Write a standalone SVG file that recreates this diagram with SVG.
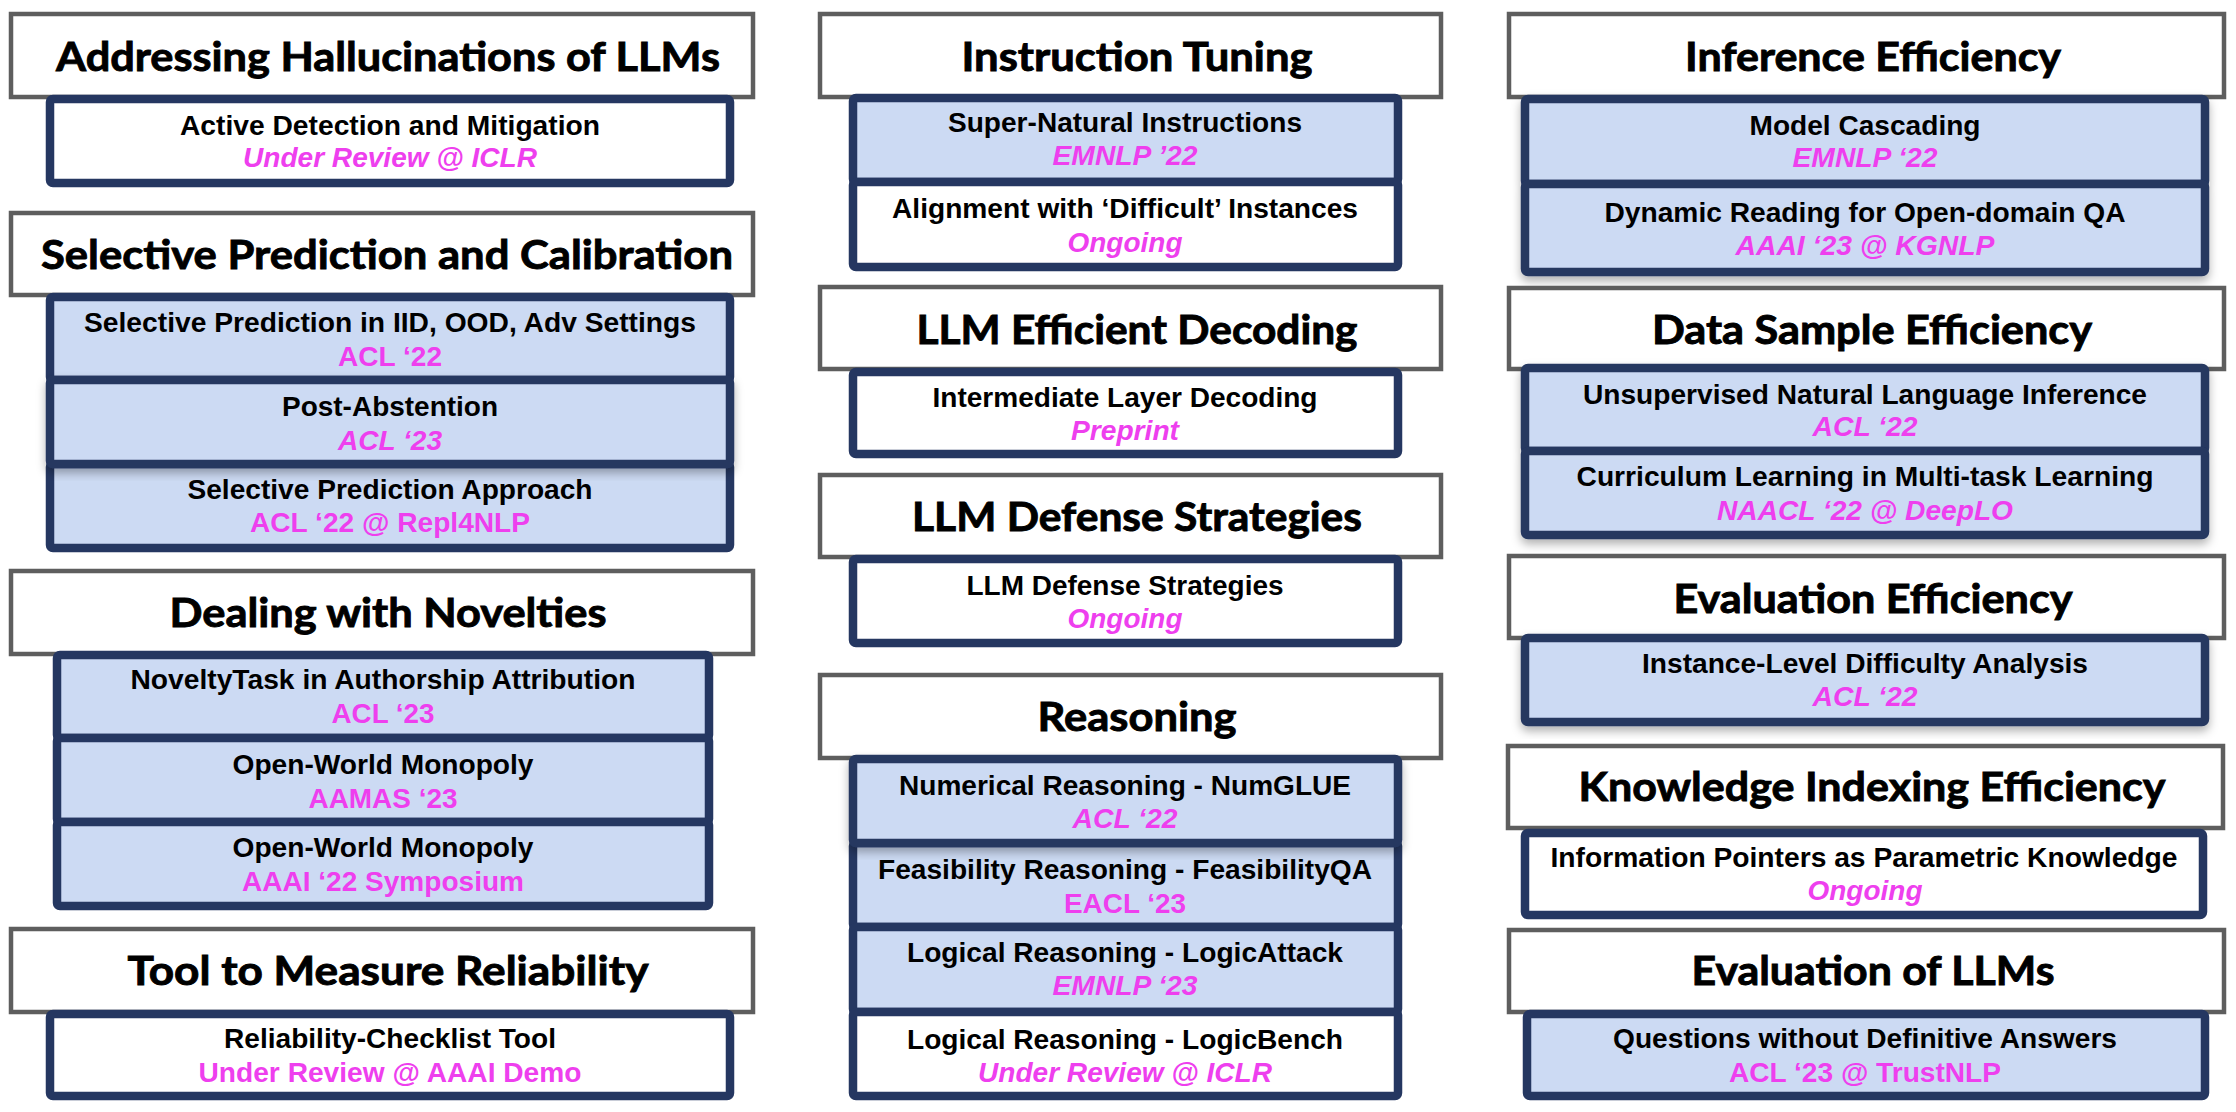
<svg xmlns="http://www.w3.org/2000/svg" width="2236" height="1112" viewBox="0 0 2236 1112">
<defs>
<style>
.hdr{fill:#ffffff;stroke:#5e5e5e;stroke-width:4.5}
.bw{fill:#ffffff;stroke:#253761;stroke-width:8.5}
.bb{fill:#ccdaf3;stroke:#253761;stroke-width:8.5}
.t{font-family:Lato,"Open Sans","Liberation Sans",sans-serif;font-weight:bold;font-size:41px;fill:#000;stroke:#000;stroke-width:0.9;text-anchor:middle}
.s{font-family:"Liberation Sans",Arial,sans-serif;font-weight:bold;font-size:28px;fill:#000;text-anchor:middle}
.v{font-family:"Liberation Sans",Arial,sans-serif;font-weight:bold;font-size:28px;fill:#ee3fee;text-anchor:middle}
.i{font-style:italic}
</style>
<filter id="sh" x="-10%" y="-10%" width="120%" height="130%">
<feDropShadow dx="0" dy="5" stdDeviation="5" flood-color="#000" flood-opacity="0.3"/>
</filter>
</defs>
<rect width="2236" height="1112" fill="#ffffff"/>
<g id="connectors"/>

<!-- LEFT COLUMN -->
<g id="hallucinations">
<rect class="hdr" x="11" y="14" width="742" height="83"/>
<text class="t" x="388" y="71" textLength="664" lengthAdjust="spacingAndGlyphs">Addressing Hallucinations of LLMs</text>
<rect class="bw" x="50" y="99" width="680" height="84" rx="3"/>
<text class="s" x="390" y="135" textLength="420" lengthAdjust="spacingAndGlyphs">Active Detection and Mitigation</text>
<text class="v i" x="390" y="167" textLength="294" lengthAdjust="spacingAndGlyphs">Under Review @ ICLR</text>
</g>

<g id="selective">
<rect class="hdr" x="11" y="213" width="742" height="82"/>
<text class="t" x="387" y="269" textLength="692" lengthAdjust="spacingAndGlyphs">Selective Prediction and Calibration</text>
<rect class="bb" x="50" y="297" width="680" height="83" rx="3"/>
<text class="s" x="390" y="332" textLength="612" lengthAdjust="spacingAndGlyphs">Selective Prediction in IID, OOD, Adv Settings</text>
<text class="v" x="390" y="366" textLength="104" lengthAdjust="spacingAndGlyphs">ACL ‘22</text>
<rect class="bb" x="50" y="464" width="680" height="84" rx="3"/>
<text class="s" x="390" y="499" textLength="405" lengthAdjust="spacingAndGlyphs">Selective Prediction Approach</text>
<text class="v" x="390" y="532" textLength="280" lengthAdjust="spacingAndGlyphs">ACL ‘22 @ Repl4NLP</text>
<rect class="bb" x="50" y="380" width="680" height="84" rx="3" filter="url(#sh)"/>
<text class="s" x="390" y="416" textLength="216" lengthAdjust="spacingAndGlyphs">Post-Abstention</text>
<text class="v i" x="390" y="450" textLength="104" lengthAdjust="spacingAndGlyphs">ACL ‘23</text>
</g>

<g id="novelties">
<rect class="hdr" x="11" y="571" width="742" height="83"/>
<text class="t" x="388" y="627" textLength="437" lengthAdjust="spacingAndGlyphs">Dealing with Novelties</text>
<rect class="bb" x="57" y="655" width="652" height="83" rx="3"/>
<text class="s" x="383" y="689" textLength="505" lengthAdjust="spacingAndGlyphs">NoveltyTask in Authorship Attribution</text>
<text class="v" x="383" y="723" textLength="103" lengthAdjust="spacingAndGlyphs">ACL ‘23</text>
<rect class="bb" x="57" y="738" width="652" height="84" rx="3"/>
<text class="s" x="383" y="774" textLength="301" lengthAdjust="spacingAndGlyphs">Open-World Monopoly</text>
<text class="v" x="383" y="808" textLength="149" lengthAdjust="spacingAndGlyphs">AAMAS ‘23</text>
<rect class="bb" x="57" y="822" width="652" height="84" rx="3"/>
<text class="s" x="383" y="857" textLength="301" lengthAdjust="spacingAndGlyphs">Open-World Monopoly</text>
<text class="v" x="383" y="891" textLength="282" lengthAdjust="spacingAndGlyphs">AAAI ‘22 Symposium</text>
</g>

<g id="reliability">
<rect class="hdr" x="11" y="929" width="742" height="83"/>
<text class="t" x="388" y="985" textLength="521" lengthAdjust="spacingAndGlyphs">Tool to Measure Reliability</text>
<rect class="bw" x="50" y="1014" width="680" height="82" rx="3"/>
<text class="s" x="390" y="1048" textLength="332" lengthAdjust="spacingAndGlyphs">Reliability-Checklist Tool</text>
<text class="v" x="390" y="1082" textLength="383" lengthAdjust="spacingAndGlyphs">Under Review @ AAAI Demo</text>
</g>

<!-- MIDDLE COLUMN -->
<g id="instruction-tuning">
<rect class="hdr" x="820" y="14" width="621" height="83"/>
<text class="t" x="1137" y="71" textLength="351" lengthAdjust="spacingAndGlyphs">Instruction Tuning</text>
<rect class="bb" x="853" y="98" width="545" height="84" rx="3"/>
<text class="s" x="1125" y="132" textLength="354" lengthAdjust="spacingAndGlyphs">Super-Natural Instructions</text>
<text class="v i" x="1125" y="165" textLength="145" lengthAdjust="spacingAndGlyphs">EMNLP ’22</text>
<rect class="bw" x="853" y="182" width="545" height="85" rx="3"/>
<text class="s" x="1125" y="218" textLength="466" lengthAdjust="spacingAndGlyphs">Alignment with ‘Difficult’ Instances</text>
<text class="v i" x="1125" y="252" textLength="115" lengthAdjust="spacingAndGlyphs">Ongoing</text>
</g>

<g id="efficient-decoding">
<rect class="hdr" x="820" y="287" width="621" height="82"/>
<text class="t" x="1137" y="344" textLength="441" lengthAdjust="spacingAndGlyphs">LLM Efficient Decoding</text>
<rect class="bw" x="853" y="372" width="545" height="82" rx="3"/>
<text class="s" x="1125" y="407" textLength="385" lengthAdjust="spacingAndGlyphs">Intermediate Layer Decoding</text>
<text class="v i" x="1125" y="440" textLength="108" lengthAdjust="spacingAndGlyphs">Preprint</text>
</g>

<g id="defense">
<rect class="hdr" x="820" y="475" width="621" height="82"/>
<text class="t" x="1137" y="531" textLength="450" lengthAdjust="spacingAndGlyphs">LLM Defense Strategies</text>
<rect class="bw" x="853" y="559" width="545" height="84" rx="3"/>
<text class="s" x="1125" y="595" textLength="317" lengthAdjust="spacingAndGlyphs">LLM Defense Strategies</text>
<text class="v i" x="1125" y="628" textLength="115" lengthAdjust="spacingAndGlyphs">Ongoing</text>
</g>

<g id="reasoning">
<rect class="hdr" x="820" y="675" width="621" height="83"/>
<text class="t" x="1137" y="731" textLength="199" lengthAdjust="spacingAndGlyphs">Reasoning</text>
<rect class="bb" x="853" y="843" width="545" height="84" rx="3"/>
<text class="s" x="1125" y="879" textLength="494" lengthAdjust="spacingAndGlyphs">Feasibility Reasoning - FeasibilityQA</text>
<text class="v" x="1125" y="913" textLength="122" lengthAdjust="spacingAndGlyphs">EACL ‘23</text>
<rect class="bb" x="853" y="927" width="545" height="85" rx="3"/>
<text class="s" x="1125" y="962" textLength="436" lengthAdjust="spacingAndGlyphs">Logical Reasoning - LogicAttack</text>
<text class="v i" x="1125" y="995" textLength="145" lengthAdjust="spacingAndGlyphs">EMNLP ‘23</text>
<rect class="bw" x="853" y="1012" width="545" height="84" rx="3"/>
<text class="s" x="1125" y="1049" textLength="436" lengthAdjust="spacingAndGlyphs">Logical Reasoning - LogicBench</text>
<text class="v i" x="1125" y="1082" textLength="294" lengthAdjust="spacingAndGlyphs">Under Review @ ICLR</text>
<rect class="bb" x="853" y="759" width="545" height="84" rx="3" filter="url(#sh)"/>
<text class="s" x="1125" y="795" textLength="452" lengthAdjust="spacingAndGlyphs">Numerical Reasoning - NumGLUE</text>
<text class="v i" x="1125" y="828" textLength="105" lengthAdjust="spacingAndGlyphs">ACL ‘22</text>
</g>

<!-- RIGHT COLUMN -->
<g id="inference-efficiency">
<rect class="hdr" x="1509" y="14" width="715" height="83"/>
<text class="t" x="1873" y="71" textLength="376" lengthAdjust="spacingAndGlyphs">Inference Efficiency</text>
<g filter="url(#sh)">
<rect class="bb" x="1525" y="99" width="680" height="85" rx="3"/>
<rect class="bb" x="1525" y="184" width="680" height="88" rx="3"/>
</g>
<text class="s" x="1865" y="135" textLength="231" lengthAdjust="spacingAndGlyphs">Model Cascading</text>
<text class="v i" x="1865" y="167" textLength="145" lengthAdjust="spacingAndGlyphs">EMNLP ‘22</text>
<text class="s" x="1865" y="222" textLength="521" lengthAdjust="spacingAndGlyphs">Dynamic Reading for Open-domain QA</text>
<text class="v i" x="1865" y="255" textLength="259" lengthAdjust="spacingAndGlyphs">AAAI ‘23 @ KGNLP</text>
</g>

<g id="data-sample-efficiency">
<rect class="hdr" x="1509" y="288" width="715" height="81"/>
<text class="t" x="1872" y="344" textLength="440" lengthAdjust="spacingAndGlyphs">Data Sample Efficiency</text>
<g filter="url(#sh)">
<rect class="bb" x="1525" y="368" width="680" height="83" rx="3"/>
<rect class="bb" x="1525" y="451" width="680" height="84" rx="3"/>
</g>
<text class="s" x="1865" y="404" textLength="564" lengthAdjust="spacingAndGlyphs">Unsupervised Natural Language Inference</text>
<text class="v i" x="1865" y="436" textLength="105" lengthAdjust="spacingAndGlyphs">ACL ‘22</text>
<text class="s" x="1865" y="486" textLength="577" lengthAdjust="spacingAndGlyphs">Curriculum Learning in Multi-task Learning</text>
<text class="v i" x="1865" y="520" textLength="296" lengthAdjust="spacingAndGlyphs">NAACL ‘22 @ DeepLO</text>
</g>

<g id="evaluation-efficiency">
<rect class="hdr" x="1509" y="556" width="715" height="82"/>
<text class="t" x="1873" y="613" textLength="399" lengthAdjust="spacingAndGlyphs">Evaluation Efficiency</text>
<rect class="bb" x="1525" y="638" width="680" height="84" rx="3" filter="url(#sh)"/>
<text class="s" x="1865" y="673" textLength="446" lengthAdjust="spacingAndGlyphs">Instance-Level Difficulty Analysis</text>
<text class="v i" x="1865" y="706" textLength="105" lengthAdjust="spacingAndGlyphs">ACL ‘22</text>
</g>

<g id="knowledge-indexing">
<rect class="hdr" x="1508" y="746" width="715" height="82"/>
<text class="t" x="1872" y="801" textLength="587" lengthAdjust="spacingAndGlyphs">Knowledge Indexing Efficiency</text>
<rect class="bw" x="1525" y="833" width="678" height="82" rx="3"/>
<text class="s" x="1864" y="867" textLength="627" lengthAdjust="spacingAndGlyphs">Information Pointers as Parametric Knowledge</text>
<text class="v i" x="1865" y="900" textLength="115" lengthAdjust="spacingAndGlyphs">Ongoing</text>
</g>

<g id="evaluation-llms">
<rect class="hdr" x="1509" y="930" width="715" height="82"/>
<text class="t" x="1873" y="985" textLength="363" lengthAdjust="spacingAndGlyphs">Evaluation of LLMs</text>
<rect class="bb" x="1527" y="1014" width="678" height="82" rx="3"/>
<text class="s" x="1865" y="1048" textLength="504" lengthAdjust="spacingAndGlyphs">Questions without Definitive Answers</text>
<text class="v" x="1865" y="1082" textLength="272" lengthAdjust="spacingAndGlyphs">ACL ‘23 @ TrustNLP</text>
</g>
</svg>
